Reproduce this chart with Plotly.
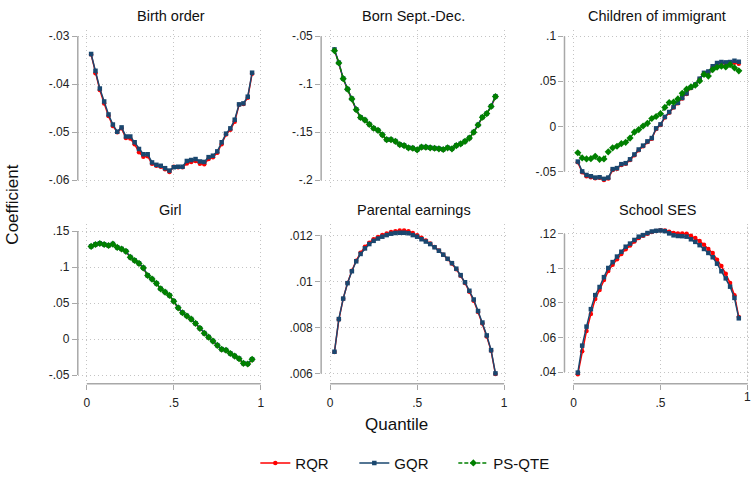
import plotly.graph_objects as go

# Quantile grid shared by every panel
QUANTILES = [0.025, 0.05, 0.075, 0.1, 0.125, 0.15, 0.175, 0.2, 0.225, 0.25,
             0.275, 0.3, 0.325, 0.35, 0.375, 0.4, 0.425, 0.45, 0.475, 0.5,
             0.525, 0.55, 0.575, 0.6, 0.625, 0.65, 0.675, 0.7, 0.725, 0.75,
             0.775, 0.8, 0.825, 0.85, 0.875, 0.9, 0.925, 0.95]

# Birth order
BO_RQR = [-0.0338, -0.0377, -0.0412, -0.0440, -0.0466, -0.0487, -0.0500, -0.0492, -0.0512, -0.0513,
          -0.0525, -0.0542, -0.0551, -0.0550, -0.0566, -0.0570, -0.0572, -0.0577, -0.0583, -0.0572,
          -0.0573, -0.0573, -0.0565, -0.0562, -0.0560, -0.0566, -0.0567, -0.0556, -0.0552, -0.0543,
          -0.0525, -0.0505, -0.0495, -0.0478, -0.0443, -0.0441, -0.0428, -0.0378]
BO_GQR = [-0.0337, -0.0372, -0.0409, -0.0436, -0.0463, -0.0484, -0.0499, -0.0490, -0.0509, -0.0509,
          -0.0521, -0.0535, -0.0546, -0.0546, -0.0563, -0.0568, -0.0570, -0.0575, -0.0580, -0.0573,
          -0.0572, -0.0572, -0.0560, -0.0558, -0.0556, -0.0561, -0.0562, -0.0552, -0.0549, -0.0540,
          -0.0521, -0.0503, -0.0492, -0.0474, -0.0442, -0.0440, -0.0426, -0.0376]

# Born Sept.-Dec.
BS_RQR = [-0.0645, -0.0780, -0.0944, -0.1053, -0.1155, -0.1267, -0.1349, -0.1376, -0.1420, -0.1461,
          -0.1482, -0.1529, -0.1580, -0.1580, -0.1597, -0.1631, -0.1641, -0.1665, -0.1669, -0.1686,
          -0.1658, -0.1658, -0.1665, -0.1669, -0.1675, -0.1682, -0.1665, -0.1675, -0.1641, -0.1624,
          -0.1597, -0.1563, -0.1502, -0.1427, -0.1346, -0.1308, -0.1233, -0.1131]
BS_GQR = [-0.0637, -0.0775, -0.0940, -0.1050, -0.1150, -0.1262, -0.1345, -0.1372, -0.1416, -0.1458,
          -0.1479, -0.1525, -0.1576, -0.1577, -0.1593, -0.1627, -0.1637, -0.1661, -0.1665, -0.1682,
          -0.1654, -0.1655, -0.1661, -0.1666, -0.1671, -0.1678, -0.1661, -0.1671, -0.1637, -0.1620,
          -0.1593, -0.1559, -0.1498, -0.1423, -0.1342, -0.1304, -0.1229, -0.1126]
BS_PSQTE = [-0.0650, -0.0779, -0.0942, -0.1051, -0.1153, -0.1265, -0.1347, -0.1374, -0.1418, -0.1459,
            -0.1480, -0.1527, -0.1578, -0.1578, -0.1595, -0.1629, -0.1639, -0.1663, -0.1667, -0.1684,
            -0.1656, -0.1656, -0.1663, -0.1667, -0.1673, -0.1680, -0.1663, -0.1673, -0.1639, -0.1622,
            -0.1595, -0.1561, -0.1500, -0.1425, -0.1344, -0.1306, -0.1231, -0.1129]

# Children of immigrant
CI_RQR = [-0.0400, -0.0510, -0.0555, -0.0565, -0.0575, -0.0572, -0.0597, -0.0580, -0.0485, -0.0470,
          -0.0428, -0.0415, -0.0375, -0.0322, -0.0265, -0.0222, -0.0175, -0.0137, -0.0030, 0.0015,
          0.0098, 0.0152, 0.0208, 0.0255, 0.0310, 0.0360, 0.0425, 0.0460, 0.0525, 0.0590,
          0.0604, 0.0660, 0.0693, 0.0700, 0.0697, 0.0700, 0.0705, 0.0695]
CI_GQR = [-0.0391, -0.0500, -0.0540, -0.0554, -0.0569, -0.0565, -0.0583, -0.0569, -0.0475, -0.0464,
          -0.0420, -0.0409, -0.0366, -0.0312, -0.0257, -0.0214, -0.0167, -0.0130, -0.0022, 0.0022,
          0.0105, 0.0159, 0.0214, 0.0261, 0.0315, 0.0366, 0.0431, 0.0464, 0.0529, 0.0594,
          0.0609, 0.0667, 0.0703, 0.0714, 0.0710, 0.0714, 0.0728, 0.0717]
CI_PSQTE = [-0.0293, -0.0351, -0.0362, -0.0359, -0.0333, -0.0366, -0.0362, -0.0283, -0.0239, -0.0221,
            -0.0192, -0.0178, -0.0130, -0.0065, -0.0036, 0.0004, 0.0033, 0.0087, 0.0109, 0.0141,
            0.0210, 0.0264, 0.0268, 0.0304, 0.0366, 0.0413, 0.0438, 0.0457, 0.0504, 0.0576,
            0.0558, 0.0630, 0.0656, 0.0667, 0.0659, 0.0685, 0.0649, 0.0616]

# Girl
GI_RQR = [0.1285, 0.1312, 0.1326, 0.1312, 0.1298, 0.1317, 0.1271, 0.1249, 0.1216, 0.1134,
          0.1089, 0.1048, 0.0985, 0.0880, 0.0830, 0.0771, 0.0694, 0.0649, 0.0604, 0.0522,
          0.0431, 0.0363, 0.0318, 0.0273, 0.0214, 0.0146, 0.0078, 0.0023, -0.0031, -0.0090,
          -0.0145, -0.0158, -0.0204, -0.0240, -0.0276, -0.0341, -0.0350, -0.0286]
GI_GQR = [0.1289, 0.1316, 0.1330, 0.1316, 0.1302, 0.1321, 0.1275, 0.1253, 0.1221, 0.1139,
          0.1094, 0.1053, 0.0990, 0.0885, 0.0835, 0.0776, 0.0699, 0.0654, 0.0609, 0.0527,
          0.0436, 0.0368, 0.0323, 0.0278, 0.0219, 0.0151, 0.0083, 0.0028, -0.0026, -0.0085,
          -0.0140, -0.0153, -0.0199, -0.0235, -0.0271, -0.0335, -0.0344, -0.0280]
GI_PSQTE = [0.1287, 0.1314, 0.1328, 0.1314, 0.1300, 0.1319, 0.1273, 0.1251, 0.1219, 0.1137,
            0.1092, 0.1051, 0.0988, 0.0883, 0.0833, 0.0774, 0.0697, 0.0652, 0.0607, 0.0525,
            0.0434, 0.0366, 0.0321, 0.0276, 0.0217, 0.0149, 0.0081, 0.0026, -0.0028, -0.0087,
            -0.0142, -0.0155, -0.0201, -0.0237, -0.0273, -0.0337, -0.0346, -0.0282]

# Parental earnings
PE_RQR = [0.00693, 0.00834, 0.00924, 0.00993, 0.01046, 0.01090, 0.01124, 0.01150, 0.01168, 0.01183,
          0.01193, 0.01201, 0.01208, 0.01214, 0.01218, 0.01221, 0.01221, 0.01218, 0.01210, 0.01200,
          0.01189, 0.01177, 0.01164, 0.01149, 0.01134, 0.01116, 0.01097, 0.01077, 0.01053, 0.01024,
          0.00993, 0.00955, 0.00916, 0.00867, 0.00817, 0.00760, 0.00698, 0.00597]
PE_GQR = [0.00694, 0.00836, 0.00925, 0.00992, 0.01044, 0.01087, 0.01119, 0.01143, 0.01162, 0.01176,
          0.01186, 0.01194, 0.01201, 0.01207, 0.01210, 0.01211, 0.01211, 0.01209, 0.01201, 0.01194,
          0.01183, 0.01173, 0.01162, 0.01148, 0.01133, 0.01116, 0.01098, 0.01079, 0.01055, 0.01027,
          0.00996, 0.00959, 0.00921, 0.00871, 0.00821, 0.00765, 0.00701, 0.00600]

# School SES
SE_RQR = [0.0388, 0.0521, 0.0638, 0.0736, 0.0822, 0.0875, 0.0932, 0.0985, 0.1020, 0.1053,
          0.1083, 0.1110, 0.1132, 0.1155, 0.1175, 0.1188, 0.1200, 0.1210, 0.1216, 0.1220,
          0.1219, 0.1212, 0.1205, 0.1202, 0.1202, 0.1200, 0.1188, 0.1175, 0.1158, 0.1136,
          0.1112, 0.1088, 0.1050, 0.1013, 0.0968, 0.0915, 0.0845, 0.0718]
SE_GQR = [0.0397, 0.0553, 0.0663, 0.0764, 0.0845, 0.0892, 0.0949, 0.1002, 0.1036, 0.1068,
          0.1096, 0.1125, 0.1143, 0.1164, 0.1183, 0.1192, 0.1204, 0.1213, 0.1217, 0.1219,
          0.1215, 0.1202, 0.1191, 0.1187, 0.1186, 0.1183, 0.1168, 0.1153, 0.1134, 0.1112,
          0.1089, 0.1064, 0.1027, 0.0983, 0.0942, 0.0894, 0.0829, 0.0711]

PANEL_TITLES = ["Birth order", "Born Sept.-Dec.", "Children of immigrant",
                "Girl", "Parental earnings", "School SES"]

PANEL_SERIES = [
    {"RQR": BO_RQR, "GQR": BO_GQR},
    {"RQR": BS_RQR, "GQR": BS_GQR, "PS-QTE": BS_PSQTE},
    {"RQR": CI_RQR, "GQR": CI_GQR, "PS-QTE": CI_PSQTE},
    {"RQR": GI_RQR, "GQR": GI_GQR, "PS-QTE": GI_PSQTE},
    {"RQR": PE_RQR, "GQR": PE_GQR},
    {"RQR": SE_RQR, "GQR": SE_GQR},
]

Y_TICKS = [
    [-0.06, -0.05, -0.04, -0.03],
    [-0.2, -0.15, -0.1, -0.05],
    [-0.05, 0, 0.05, 0.1],
    [-0.05, 0, 0.05, 0.1, 0.15],
    [0.006, 0.008, 0.01, 0.012],
    [0.04, 0.06, 0.08, 0.1, 0.12],
]
Y_TICK_LABELS = [
    ["-.06", "-.05", "-.04", "-.03"],
    ["-.2", "-.15", "-.1", "-.05"],
    ["-.05", "0", ".05", ".1"],
    ["-.05", "0", ".05", ".1", ".15"],
    [".006", ".008", ".01", ".012"],
    [".04", ".06", ".08", ".1", ".12"],
]
X_TICKS = [0, 0.5, 1]
X_TICK_LABELS = ["0", ".5", "1"]

# ---- layout / style settings ----
W, H = 752, 480
FONT = "Liberation Sans, Arial, sans-serif"
STYLE = {
    "RQR": dict(color="#ff0000", symbol="circle", size=4.5, dash="solid"),
    "GQR": dict(color="#1a476f", symbol="square", size=4.5, dash="solid"),
    "PS-QTE": dict(color="#008000", symbol="diamond", size=5.5, dash="4px,2px"),
}
Y_RANGES = [
    [-0.06184, -0.02878],
    [-0.20918, -0.04388],
    [-0.06957, 0.10652],
    [-0.06224, 0.15952],
    [0.005545, 0.012481],
    [0.03320, 0.12549],
]
X_RANGE = [-0.0516, 1.0086]
COL_LEFT = [78, 322, 566]
COL_WIDTH = 185
ROW_TOP = [30, 228]
ROW_BOTTOM = [192, 391]
AXIS_GRAY = "#a8a8a8"
GRID_GRAY = "#c4c4c4"
GRID_DASH = "1px,3px"
TICK_FONT = dict(size=12, color="#222222", family=FONT)

fig = go.Figure()
shown = set()
layout_axes = {}
shapes = []
annotations = []

for i, (title, series) in enumerate(zip(PANEL_TITLES, PANEL_SERIES)):
    r, c = divmod(i, 3)
    sfx = "" if i == 0 else str(i + 1)
    xa, ya = "x" + sfx, "y" + sfx
    for name in ["RQR", "GQR", "PS-QTE"]:
        if name not in series:
            continue
        st = STYLE[name]
        fig.add_trace(go.Scatter(
            x=QUANTILES, y=series[name], xaxis=xa, yaxis=ya,
            mode="lines+markers", name=name, legendgroup=name,
            showlegend=name not in shown,
            line=dict(color=st["color"], width=1.5, dash=st["dash"]),
            marker=dict(color=st["color"], symbol=st["symbol"], size=st["size"]),
            cliponaxis=False,
        ))
        shown.add(name)

    x0 = COL_LEFT[c] / W
    x1 = (COL_LEFT[c] + COL_WIDTH) / W
    y0 = 1 - ROW_BOTTOM[r] / H
    y1 = 1 - ROW_TOP[r] / H
    bottom = r == 1
    last_col = c == 2
    # the right-most panel's "1" label sits at the page edge; it is drawn as an annotation
    xlabels = X_TICK_LABELS[:-1] + [""] if (bottom and last_col) else X_TICK_LABELS
    layout_axes["xaxis" + sfx] = dict(
        domain=[x0, x1], anchor=ya, range=X_RANGE,
        tickvals=X_TICKS, ticktext=xlabels,
        showticklabels=bottom, ticks="outside" if bottom else "",
        ticklen=5, tickcolor=AXIS_GRAY, tickwidth=1.2,
        ticklabelstandoff=3, ticklabeloverflow="allow",
        showgrid=True, gridcolor=GRID_GRAY, griddash=GRID_DASH, gridwidth=1,
        showline=False, zeroline=False,
        tickfont=TICK_FONT,
    )
    layout_axes["yaxis" + sfx] = dict(
        domain=[y0, y1], anchor=xa, range=Y_RANGES[i],
        tickvals=Y_TICKS[i], ticktext=Y_TICK_LABELS[i],
        ticks="outside", ticklen=5, tickcolor=AXIS_GRAY, tickwidth=1.2,
        showgrid=True, gridcolor=GRID_GRAY, griddash=GRID_DASH, gridwidth=1,
        showline=False, zeroline=False,
        tickfont=TICK_FONT,
    )
    # y axis line spanning the labelled tick range
    shapes.append(dict(type="line", xref=xa + " domain", yref=ya,
                       x0=0, x1=0, y0=min(Y_TICKS[i]), y1=max(Y_TICKS[i]),
                       line=dict(color=AXIS_GRAY, width=1.5)))
    if last_col:
        # grid line at x = 1 for the right-most column, next to the page edge
        shapes.append(dict(type="line", xref=xa, yref=ya + " domain",
                           x0=X_TICKS[-1], x1=X_TICKS[-1], y0=0, y1=1,
                           line=dict(color=GRID_GRAY, width=1, dash=GRID_DASH),
                           layer="below"))
    if bottom:
        shapes.append(dict(type="line", xref=xa, yref=ya + " domain",
                           x0=min(X_TICKS), x1=max(X_TICKS), y0=0, y1=0,
                           line=dict(color=AXIS_GRAY, width=1.5)))
        if last_col:
            annotations.append(dict(text=X_TICK_LABELS[-1], xref=xa, yref=ya + " domain",
                                    x=X_TICKS[-1], y=0, yshift=-13,
                                    xanchor="center", yanchor="middle",
                                    showarrow=False, font=TICK_FONT))
    annotations.append(dict(
        text=title, xref="paper", yref="paper",
        x=(COL_LEFT[c] + 93) / W, y=1 - (15 if r == 0 else 213) / H,
        xanchor="center", yanchor="middle", showarrow=False,
        font=dict(size=14.5, color="#111111", family=FONT),
    ))

annotations.append(dict(text="Coefficient", xref="paper", yref="paper",
                        x=13 / W, y=1 - 208 / H, textangle=-90,
                        xanchor="center", yanchor="middle", showarrow=False,
                        font=dict(size=17, color="#111111", family=FONT)))
annotations.append(dict(text="Quantile", xref="paper", yref="paper",
                        x=398 / W, y=1 - 433 / H,
                        xanchor="center", yanchor="middle", showarrow=False,
                        font=dict(size=17, color="#111111", family=FONT)))

fig.update_layout(
    width=W, height=H,
    margin=dict(l=0, r=0, t=0, b=0),
    paper_bgcolor="white", plot_bgcolor="white",
    font=dict(family=FONT, color="#111111"),
    showlegend=True,
    legend=dict(orientation="h", x=256 / W, y=1 - 472 / H,
                xanchor="left", yanchor="middle",
                entrywidth=54, entrywidthmode="pixels",
                font=dict(size=15, color="#111111", family=FONT),
                bgcolor="rgba(0,0,0,0)"),
    shapes=shapes,
    annotations=annotations,
    **layout_axes,
)

fig.write_html("out.html")
